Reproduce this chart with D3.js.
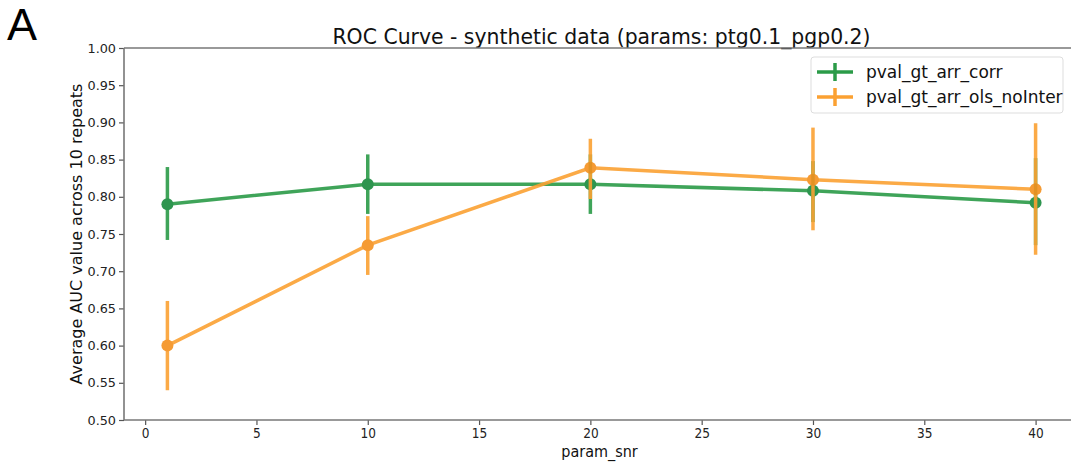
<!DOCTYPE html>
<html><head><meta charset="utf-8">
<script src="https://cdn.jsdelivr.net/npm/d3@7/dist/d3.min.js"></script>
<style>body{margin:0;background:#fff}svg{display:block}</style>
</head><body>
<svg id="c" width="1071" height="464"></svg>
<script>
const snr = [1, 10, 20, 30, 40];
const seriesNames = ["pval_gt_arr_corr", "pval_gt_arr_ols_noInter"];
const corrMean = [0.790, 0.817, 0.817, 0.808, 0.792];
const corrLow  = [0.742, 0.777, 0.777, 0.766, 0.735];
const corrHigh = [0.840, 0.857, 0.857, 0.848, 0.852];
const olsMean  = [0.600, 0.735, 0.839, 0.823, 0.810];
const olsLow   = [0.540, 0.695, 0.797, 0.755, 0.722];
const olsHigh  = [0.660, 0.774, 0.878, 0.893, 0.899];
const xTicks = [0, 5, 10, 15, 20, 25, 30, 35, 40];
const yTicks = [0.50, 0.55, 0.60, 0.65, 0.70, 0.75, 0.80, 0.85, 0.90, 0.95, 1.00];

const svg = d3.select("#c");
const L = 124, R = 1079, T = 48, B = 420;
const x = d3.scaleLinear().domain([-0.95, 41.95]).range([L, R]);
const y = d3.scaleLinear().domain([0.5, 1.0]).range([B, T]);

const series = [
  {name: seriesNames[0], mean: corrMean, lo: corrLow, hi: corrHigh, line: "#2b9b48", dot: "#188a3c"},
  {name: seriesNames[1], mean: olsMean, lo: olsLow, hi: olsHigh, line: "#fba132", dot: "#f4911f"}
];

// panel letter
svg.append("text").attr("x", 7).attr("y", 40).attr("font-family", "Liberation Sans, Arial, sans-serif")
  .attr("font-size", 45).attr("fill", "#000").text("A");

// title
svg.append("text").attr("x", (L + R) / 2).attr("y", 44).attr("text-anchor", "middle")
  .attr("font-family", "DejaVu Sans, sans-serif").attr("font-size", 20.4).attr("fill", "#111")
  .text("ROC Curve - synthetic data (params: ptg0.1_pgp0.2)");

// axes
const yAxis = d3.axisLeft(y).tickValues(yTicks).tickFormat(d3.format(".2f")).tickSize(5).tickPadding(3);
const gy = svg.append("g").attr("transform", `translate(${L},0)`).call(yAxis);
gy.select(".domain").remove();
gy.selectAll(".tick line").attr("stroke", "#555").attr("stroke-width", 1.2);
gy.selectAll(".tick text").attr("font-family", "DejaVu Sans, sans-serif").attr("font-size", 12.8).attr("fill", "#222");

const xAxis = d3.axisBottom(x).tickValues(xTicks).tickFormat(d3.format("d")).tickSize(5).tickPadding(3);
const gx = svg.append("g").attr("transform", `translate(0,${B})`).call(xAxis);
gx.select(".domain").remove();
gx.selectAll(".tick line").attr("stroke", "#555").attr("stroke-width", 1.2);
gx.selectAll(".tick text").attr("font-family", "DejaVu Sans Condensed, DejaVu Sans, sans-serif")
  .attr("font-stretch", "condensed").attr("font-size", 13.5).attr("fill", "#222");

// spines
svg.append("line").attr("x1", L).attr("x2", L).attr("y1", T).attr("y2", B).attr("stroke", "#777").attr("stroke-width", 1.6);
svg.append("line").attr("x1", L).attr("x2", R).attr("y1", B).attr("y2", B).attr("stroke", "#777").attr("stroke-width", 1.6);
svg.append("line").attr("x1", L).attr("x2", R).attr("y1", T).attr("y2", T).attr("stroke", "#777").attr("stroke-width", 1.6);

// axis labels
svg.append("text").attr("x", (L + R) / 2 - 2).attr("y", 457).attr("text-anchor", "middle")
  .attr("font-family", "DejaVu Sans Condensed, DejaVu Sans, sans-serif").attr("font-stretch", "condensed")
  .attr("font-size", 16).attr("fill", "#111").text("param_snr");
svg.append("text").attr("transform", `translate(82,${(T + B) / 2}) rotate(-90)`).attr("text-anchor", "middle")
  .attr("font-family", "DejaVu Sans, sans-serif").attr("font-size", 16).attr("fill", "#111")
  .text("Average AUC value across 10 repeats");

// series
const line = d3.line().x(d => x(d[0])).y(d => y(d[1]));
series.forEach(s => {
  const g = svg.append("g").attr("opacity", 0.9);
  g.append("path").datum(snr.map((v, i) => [v, s.mean[i]])).attr("d", line)
    .attr("fill", "none").attr("stroke", s.line).attr("stroke-width", 3.5);
  g.selectAll("line.err").data(snr).enter().append("line")
    .attr("x1", d => x(d)).attr("x2", d => x(d))
    .attr("y1", (d, i) => y(s.lo[i])).attr("y2", (d, i) => y(s.hi[i]))
    .attr("stroke", s.line).attr("stroke-width", 3.5);
  g.selectAll("circle").data(snr).enter().append("circle")
    .attr("cx", d => x(d)).attr("cy", (d, i) => y(s.mean[i])).attr("r", 6)
    .attr("fill", s.dot);
});

// legend
const lg = svg.append("g");
lg.append("rect").attr("x", 811).attr("y", 57).attr("width", 252).attr("height", 56).attr("rx", 3)
  .attr("fill", "#fff").attr("fill-opacity", 0.85).attr("stroke", "#ddd").attr("stroke-width", 1);
series.forEach((s, i) => {
  const cy = 72 + i * 25;
  lg.append("line").attr("x1", 817).attr("x2", 853).attr("y1", cy).attr("y2", cy).attr("stroke", s.line).attr("stroke-width", 3.5);
  lg.append("line").attr("x1", 835).attr("x2", 835).attr("y1", cy - 9).attr("y2", cy + 9).attr("stroke", s.line).attr("stroke-width", 3.5);
  lg.append("text").attr("x", 866).attr("y", cy + 6).attr("font-family", "DejaVu Sans, sans-serif")
    .attr("font-size", 17).attr("fill", "#111").text(s.name);
});
</script>
</body></html>
